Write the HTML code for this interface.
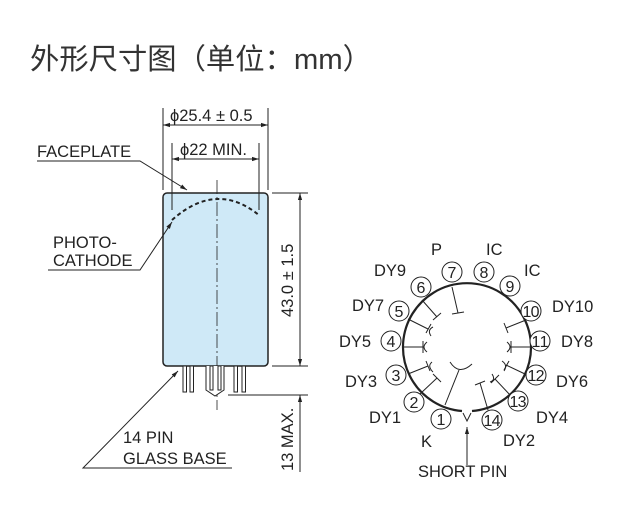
<!DOCTYPE html>
<html><head><meta charset="utf-8"><style>
html,body{margin:0;padding:0;background:#fff;}
svg{display:block;}
text{font-family:"Liberation Sans","Noto Sans CJK SC",sans-serif;}
</style></head><body>
<svg width="620" height="519" viewBox="0 0 620 519" xmlns="http://www.w3.org/2000/svg">
<defs>
<marker id="a" viewBox="0 0 10 10" refX="10" refY="5" markerWidth="7" markerHeight="7" orient="auto-start-reverse"><path d="M0,2 L10,5 L0,8 z" fill="#222"/></marker>
</defs>
<text x="30" y="69" font-size="29" fill="#333" textLength="342" lengthAdjust="spacingAndGlyphs">外形尺寸图（单位：mm）</text>

<g stroke="#222" stroke-width="1" fill="none">
<rect x="163" y="193" width="105" height="173" rx="4" fill="#cfe9f7" stroke="#222" stroke-width="1.5"/>
<line x1="217" y1="180" x2="217" y2="410" stroke-dasharray="14,3,2,3" stroke-width="0.8"/>
<path d="M172,220 Q217,180 260,216" stroke-dasharray="4,3" stroke-width="2"/>
<rect x="183" y="366" width="3.5" height="26" fill="#fff"/>
<rect x="190" y="366" width="3.5" height="26" fill="#fff"/>
<path d="M206,366 V390 L215,396 L224,390 V366" fill="#fff"/>
<rect x="210" y="366" width="3" height="24" fill="#fff"/>
<rect x="218" y="366" width="3" height="24" fill="#fff"/>
<rect x="234" y="366" width="3.5" height="26" fill="#fff"/>
<rect x="242" y="366" width="3.5" height="26" fill="#fff"/>
<line x1="163" y1="108" x2="163" y2="190"/>
<line x1="268" y1="108" x2="268" y2="190"/>
<line x1="163" y1="125" x2="268" y2="125" marker-start="url(#a)" marker-end="url(#a)"/>
<line x1="172" y1="143" x2="172" y2="210"/>
<line x1="259" y1="143" x2="259" y2="210"/>
<line x1="172" y1="159" x2="259" y2="159" marker-start="url(#a)" marker-end="url(#a)"/>
<line x1="272" y1="193" x2="308" y2="193"/>
<line x1="272" y1="366" x2="308" y2="366"/>
<line x1="228" y1="395" x2="308" y2="395"/>
<line x1="300" y1="193" x2="300" y2="366" marker-start="url(#a)" marker-end="url(#a)"/>
<line x1="300" y1="472" x2="300" y2="395" marker-end="url(#a)"/>
<polyline points="37,161 140,161 187,190" marker-end="url(#a)"/>
<polyline points="48,270 140,270 172,222" marker-end="url(#a)"/>
<polyline points="232,468 83,468 178,371" marker-end="url(#a)"/>
</g>
<g font-size="16.5" fill="#222">
<text x="170" y="121">ϕ25.4 ± 0.5</text>
<text x="180" y="155">ϕ22 MIN.</text>
<text x="37" y="157">FACEPLATE</text>
<text x="53" y="248">PHOTO-</text>
<text x="53" y="266">CATHODE</text>
<text x="123" y="443">14 PIN</text>
<text x="123" y="464">GLASS BASE</text>
<text transform="translate(293,317) rotate(-90)">43.0 ± 1.5</text>
<text transform="translate(293,471) rotate(-90)">13 MAX.</text>
</g>

<g stroke="#222" fill="none">
<path d="M462,411 A64,64 0 1 1 472,411" stroke-width="2.2"/>
<path d="M463,413 L467,421 L471,413" stroke-width="1"/>
<line x1="467" y1="465" x2="467" y2="427" stroke-width="1" marker-end="url(#a)"/>
<g stroke-width="1">
<line x1="445" y1="405" x2="459" y2="370"/>
<path d="M450,362 Q459,376 472,364"/>
<line x1="452" y1="287" x2="458" y2="313"/><line x1="452" y1="314" x2="464" y2="312"/>
<line x1="404" y1="347" x2="423" y2="347"/><line x1="423" y1="341" x2="423" y2="353"/><path d="M427,342 Q421,347 427,352"/>
<line x1="408" y1="319" x2="428" y2="329"/><line x1="426" y1="333" x2="431" y2="324"/><path d="M433,327 Q427,330 431,336"/>
<line x1="422" y1="300" x2="437" y2="317"/><line x1="433" y1="320" x2="441" y2="313"/>
<line x1="408" y1="374" x2="428" y2="366"/><line x1="426" y1="361" x2="430" y2="371"/><path d="M432,362 Q427,366 433,372"/>
<line x1="420" y1="394" x2="437" y2="378"/><line x1="433" y1="374" x2="441" y2="382"/>
<line x1="530" y1="347" x2="511" y2="347"/><line x1="511" y1="341" x2="511" y2="353"/><path d="M507,342 Q513,347 507,352"/>
<line x1="526" y1="320" x2="506" y2="328"/><line x1="504" y1="323" x2="508" y2="333"/>
<line x1="525" y1="374" x2="506" y2="365"/><line x1="504" y1="370" x2="509" y2="361"/><path d="M502,361 Q508,365 504,371"/>
<line x1="511" y1="396" x2="495" y2="379"/><line x1="491" y1="383" x2="499" y2="375"/><path d="M492,374 Q496,380 490,382"/>
<line x1="488" y1="410" x2="480" y2="383"/><line x1="475" y1="385" x2="485" y2="381"/>
</g>
</g>
<g font-size="16" text-anchor="middle" fill="#222">
<g fill="#fff" stroke="#222" stroke-width="1">
<circle cx="441" cy="419" r="10"/><circle cx="414" cy="402" r="10"/><circle cx="396" cy="375" r="10"/>
<circle cx="391" cy="341" r="10"/><circle cx="399" cy="311" r="10"/><circle cx="421" cy="287" r="10"/>
<circle cx="452" cy="272" r="10"/><circle cx="484" cy="272" r="10"/><circle cx="510" cy="286" r="10"/>
<circle cx="531" cy="311" r="10"/><circle cx="540" cy="341" r="10"/><circle cx="536" cy="375" r="10"/>
<circle cx="518" cy="401" r="10"/><circle cx="492" cy="420" r="10"/>
</g>
<text x="441" y="425">1</text><text x="414" y="408">2</text><text x="396" y="381">3</text>
<text x="391" y="347">4</text><text x="399" y="317">5</text><text x="421" y="293">6</text>
<text x="452" y="278">7</text><text x="484" y="278">8</text><text x="510" y="292">9</text>
<text x="531" y="317" textLength="17">10</text><text x="540" y="347" textLength="17">11</text><text x="536" y="381" textLength="17">12</text>
<text x="518" y="407" textLength="17">13</text><text x="492" y="426" textLength="17">14</text>
</g>
<g font-size="16.5" fill="#222">
<text x="431" y="255">P</text><text x="486" y="255">IC</text><text x="524" y="276">IC</text>
<text x="374" y="276">DY9</text><text x="352" y="311">DY7</text><text x="339" y="347">DY5</text>
<text x="345" y="387">DY3</text><text x="369" y="423">DY1</text><text x="421" y="447">K</text>
<text x="552" y="312">DY10</text><text x="561" y="347">DY8</text><text x="556" y="387">DY6</text>
<text x="536" y="423">DY4</text><text x="503" y="446">DY2</text>
<text x="418" y="477">SHORT PIN</text>
</g>
</svg>
</body></html>
